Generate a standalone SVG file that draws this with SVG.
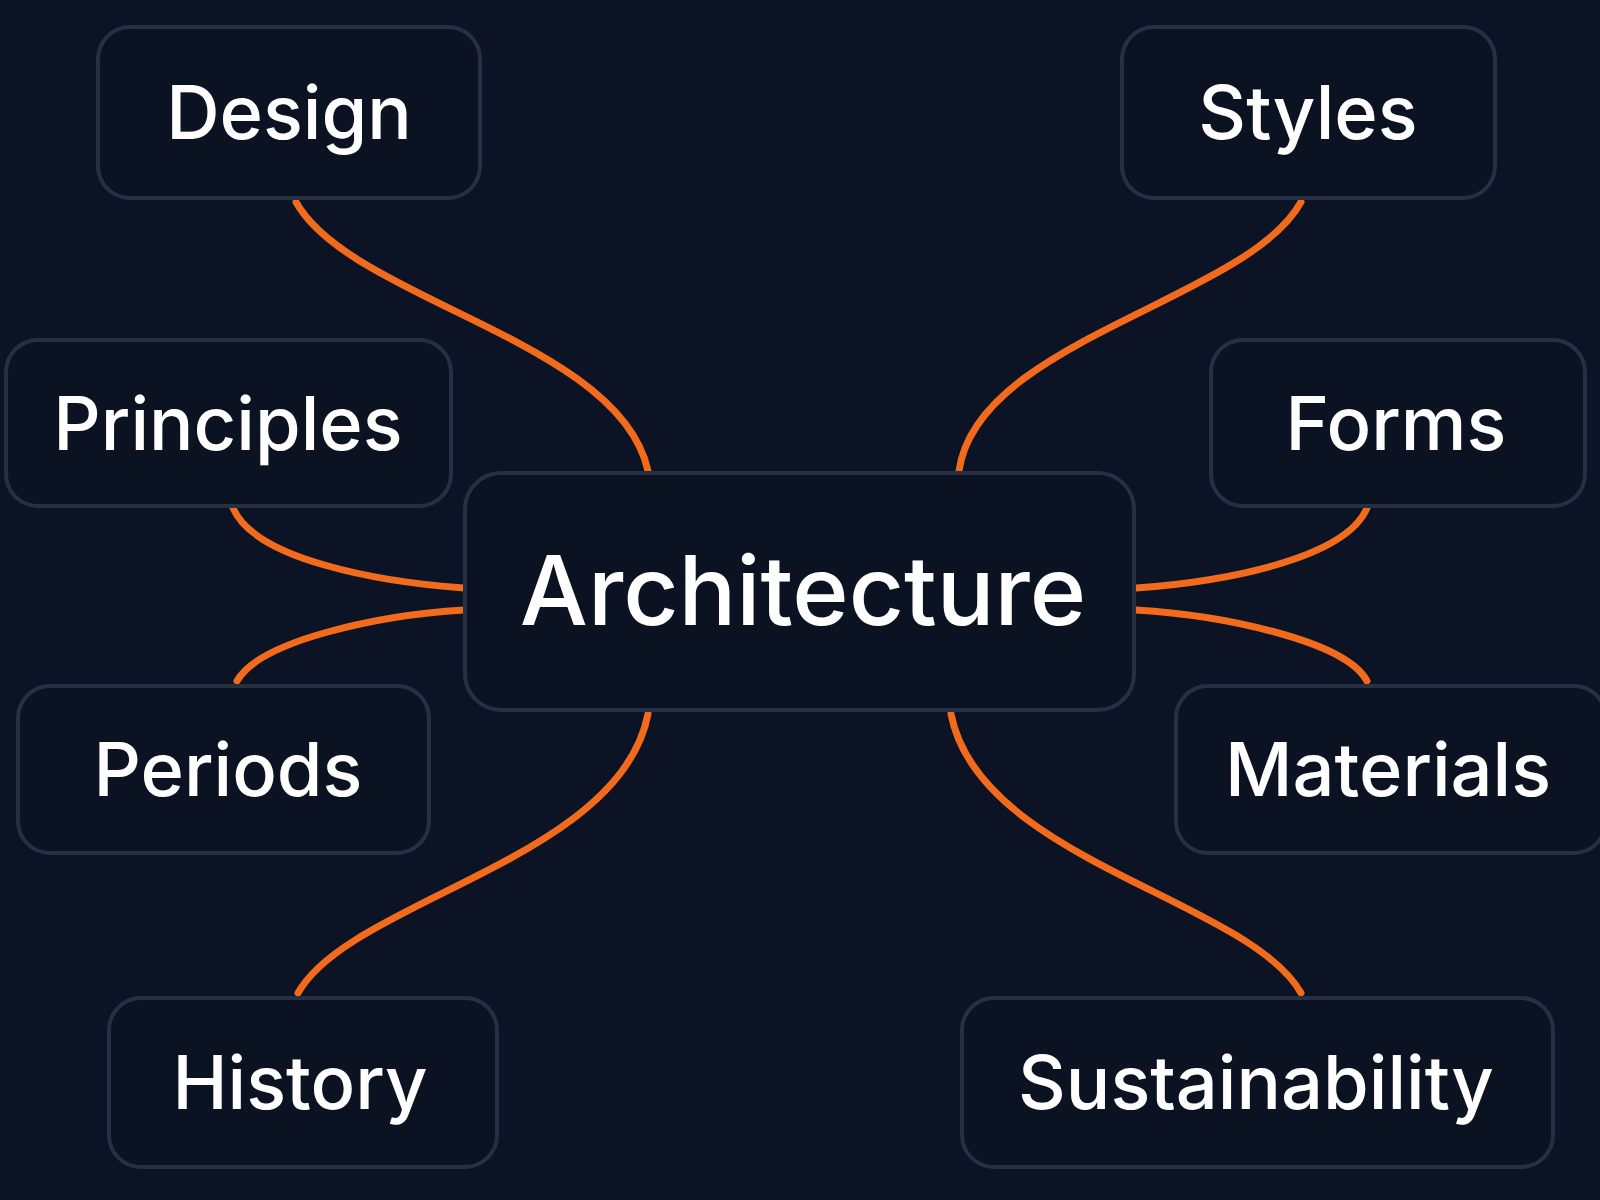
<svg xmlns="http://www.w3.org/2000/svg" width="1600" height="1200" viewBox="0 0 1600 1200">
<style>
.n rect{fill:#0b1222;stroke:#263043;stroke-width:4}
.n text{fill:#fff;font-family:Inter,"Open Sans",sans-serif;font-size:74px;font-weight:500;text-anchor:middle;dominant-baseline:central}
.c path{fill:none;stroke:#f26a1b;stroke-width:7;stroke-linecap:round}
</style>
<rect width="1600" height="1200" fill="#0c1324"/>
<g class="c">
<path d="M296,202 C350,300 620,340 648,471"/>
<path d="M1301,202 C1247,300 977,340 959,471"/>
<path d="M233,508 C255,560 380,582 464,588"/>
<path d="M237,681 C260,640 380,615 464,610"/>
<path d="M1367,508 C1345,560 1220,582 1136,588"/>
<path d="M1367,681 C1345,640 1220,615 1136,610"/>
<path d="M298,993 C350,900 620,860 648,714"/>
<path d="M1301,993 C1249,900 979,860 951,714"/>
</g>
<g id="design" class="n"><rect x="98" y="27" width="382" height="171" rx="32"/><text x="289" y="112">Design</text></g>
<g id="styles" class="n"><rect x="1122" y="27" width="373" height="171" rx="32"/><text x="1308" y="112">Styles</text></g>
<g id="principles" class="n"><rect x="6" y="340" width="445" height="166" rx="32"/><text x="228" y="423">Principles</text></g>
<g id="forms" class="n"><rect x="1211" y="340" width="374" height="166" rx="32"/><text x="1396" y="423">Forms</text></g>
<g id="architecture" class="n"><rect x="465" y="473" width="669" height="237" rx="36"/><text x="803" y="590" style="font-size:96px">Architecture</text></g>
<g id="periods" class="n"><rect x="18" y="686" width="411" height="167" rx="32"/><text x="228" y="769">Periods</text></g>
<g id="materials" class="n"><rect x="1176" y="686" width="430" height="167" rx="32"/><text x="1388" y="769">Materials</text></g>
<g id="history" class="n"><rect x="109" y="998" width="388" height="169" rx="32"/><text x="300" y="1082">History</text></g>
<g id="sustainability" class="n"><rect x="962" y="998" width="591" height="169" rx="32"/><text x="1256" y="1082">Sustainability</text></g>
</svg>
